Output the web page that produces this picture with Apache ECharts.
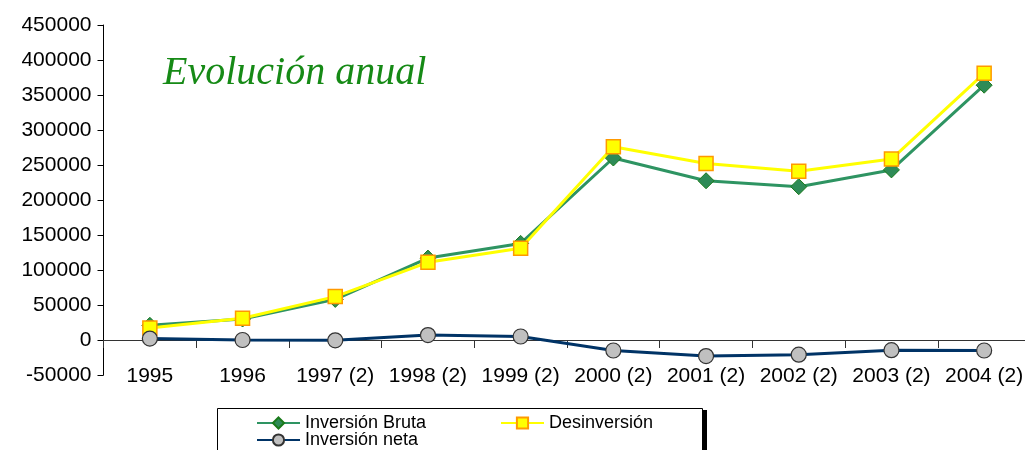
<!DOCTYPE html>
<html>
<head>
<meta charset="utf-8">
<style>
html, body { margin: 0; padding: 0; background: #fff; overflow: hidden; }
#chart { width: 1040px; height: 450px; }
</style>
<script src="https://cdn.jsdelivr.net/npm/echarts@6/dist/echarts.min.js"></script>
</head>
<body>
<div id="chart"></div>
<script>
// datos
var years = ['1995', '1996', '1997 (2)', '1998 (2)', '1999 (2)', '2000 (2)', '2001 (2)', '2002 (2)', '2003 (2)', '2004 (2)'];
var bruta = [21000, 30000, 58000, 117000, 138000, 260000, 227500, 219000, 243000, 364000];
var desinversion = [17000, 31000, 62000, 111000, 131000, 276000, 252000, 241000, 258500, 381000];
var neta = [2000, 0, -500, 7000, 5000, -15000, -23000, -21000, -14500, -15000];
var yTicks = { min: -50000, max: 450000, interval: 50000 };

var font = 'Liberation Sans, Arial, sans-serif';

var legendBox = function(name, left, top) {
	return {
		data: [name],
		left: left,
		top: top,
		padding: 0,
		itemWidth: 43,
		itemHeight: 14,
		itemGap: 4,
		textStyle: { fontFamily: font, fontSize: 18, color: '#000' }
	};
};

var option = {
	animation: false,
	title: {
		text: 'Evolución anual',
		left: 158,
		top: 48,
		textStyle: {
			fontFamily: 'Liberation Serif, Times New Roman, serif',
			fontStyle: 'italic',
			fontWeight: 'normal',
			fontSize: 40,
			color: '#168a16'
		}
	},
	graphic: [
		{ type: 'rect', shape: { x: 222, y: 410, width: 485, height: 60 }, style: { fill: '#000' }, z: 0 },
		{ type: 'rect', shape: { x: 217.5, y: 408.5, width: 485, height: 60 }, style: { fill: '#fff', stroke: '#000', lineWidth: 1 }, z: 1 }
	],
	legend: [
		legendBox('Inversión Bruta', 256, 414),
		legendBox('Desinversión', 500, 414),
		legendBox('Inversión neta', 256, 431)
	],
	grid: {
		left: 103.5,
		top: 25,
		width: 927,
		height: 350,
		containLabel: false
	},
	xAxis: [{
		type: 'category',
		data: years,
		position: 'bottom',
		boundaryGap: true,
		axisLine: { onZero: true, lineStyle: { color: '#333', width: 1 } },
		axisTick: { show: true, length: 8, lineStyle: { color: '#333' } },
		axisLabel: { show: false }
	}, {
		type: 'category',
		data: years,
		position: 'bottom',
		boundaryGap: true,
		axisLine: { show: false, onZero: false },
		axisTick: { show: false },
		axisLabel: {
			interval: 0,
			hideOverlap: false,
			margin: -9,
			fontFamily: font,
			fontSize: 21,
			color: '#000'
		}
	}],
	yAxis: {
		type: 'value',
		min: yTicks.min,
		max: yTicks.max,
		interval: yTicks.interval,
		axisLine: { show: true, lineStyle: { color: '#000' } },
		axisTick: { show: true, length: 6, lineStyle: { color: '#000' } },
		splitLine: { show: false },
		axisLabel: {
			margin: 12,
			fontFamily: font,
			fontSize: 21,
			color: '#000',
			formatter: function(v) { return String(v); }
		}
	},
	series: [{
		name: 'Inversión Bruta',
		type: 'line',
		data: bruta,
		symbol: 'diamond',
		symbolSize: 16,
		lineStyle: { color: '#2e9462', width: 3 },
		itemStyle: { color: '#2e8b57', borderColor: '#1a7a1a', borderWidth: 1 },
		z: 3
	}, {
		name: 'Desinversión',
		type: 'line',
		data: desinversion,
		symbol: 'rect',
		symbolSize: 14,
		lineStyle: { color: '#ffff00', width: 3 },
		itemStyle: { color: '#ffff00', borderColor: '#ff9900', borderWidth: 1.5 },
		z: 4
	}, {
		name: 'Inversión neta',
		type: 'line',
		data: neta,
		symbol: 'circle',
		symbolSize: 15,
		lineStyle: { color: '#003366', width: 3 },
		itemStyle: { color: '#c0c0c0', borderColor: '#333', borderWidth: 1.2 },
		z: 5
	}]
};

var byId = function(id) {
	return document.getElementById(id);
};
var chart = echarts.init(byId('chart'));
chart.setOption(option);
</script>
</body>
</html>
